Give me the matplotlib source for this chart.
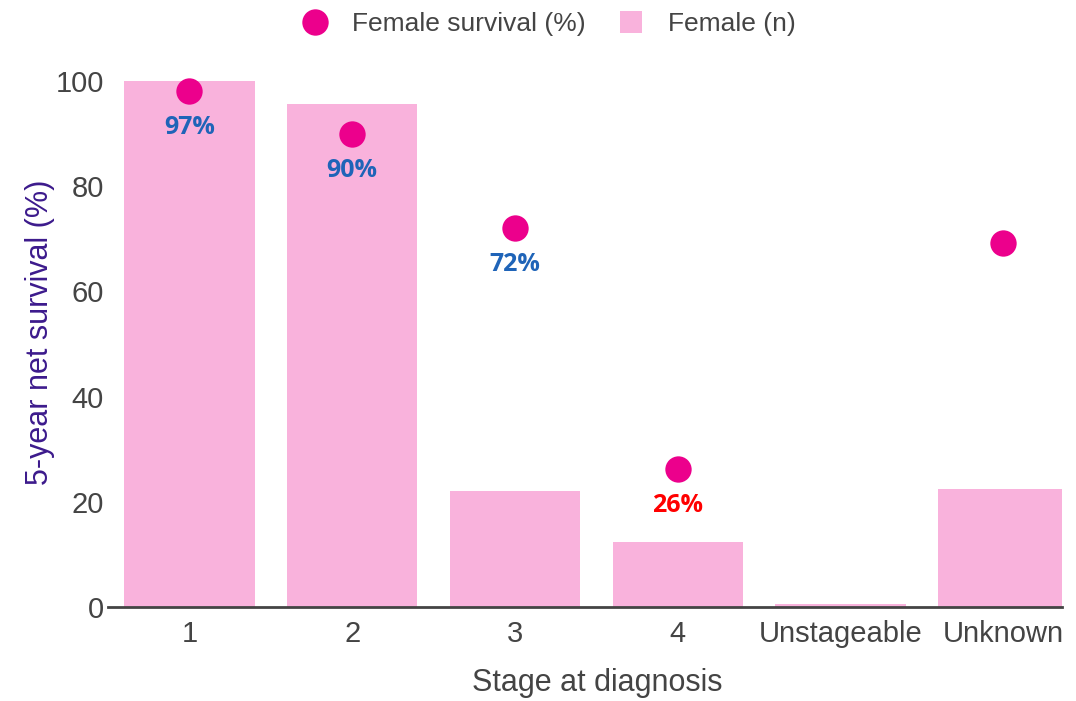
import matplotlib
matplotlib.use("Agg")
import matplotlib.pyplot as plt
from matplotlib.lines import Line2D

categories = ["1", "2", "3", "4", "Unstageable", "Unknown"]
female_n_bar = [100.0, 95.6, 22.0, 12.3, 0.6, 22.5]      # bar heights read on the survival axis scale
female_survival = [98.1, 89.9, 72.1, 26.2, None, 69.2]
survival_labels = ["97%", "90%", "72%", "26%", None, None]
label_colors = ["#1F64B8", "#1F64B8", "#1F64B8", "#FF0000", None, None]
yticks = [0, 20, 40, 60, 80, 100]

BAR_COLOR = "#F9B2DC"
DOT_COLOR = "#EC008C"
TEXT_COLOR = "#444444"

plt.rcParams["font.family"] = ["Liberation Sans", "DejaVu Sans"]

fig = plt.figure(figsize=(10.76, 7.01), dpi=100)
ax = fig.add_axes([108 / 1076, 1 - 607 / 701, (1062 - 108) / 1076, (607 - 81) / 701])

x = list(range(len(categories)))
ax.bar(x, female_n_bar, width=0.8, color=BAR_COLOR, zorder=1)

for xi, v, lab, col in zip(x, female_survival, survival_labels, label_colors):
    if v is None:
        continue
    ax.scatter([xi], [v], s=360, color=DOT_COLOR, zorder=3, clip_on=False, linewidths=0)
    if lab:
        ax.annotate(lab, (xi, v), xytext=(0, -26.5), textcoords="offset points",
                    ha="center", va="center", fontsize=18, fontweight="bold",
                    color=col, family=["Open Sans", "DejaVu Sans"])

ax.set_xlim(-0.5, 5.36)
ax.set_ylim(0, 100)
ax.set_xticks(x)
ax.set_xticklabels(categories)
ax.set_yticks(yticks)
ax.tick_params(axis="both", length=0, labelsize=21, colors=TEXT_COLOR)
ax.tick_params(axis="x", pad=9)
ax.tick_params(axis="y", pad=3)

for s in ["top", "right", "left"]:
    ax.spines[s].set_visible(False)
ax.spines["bottom"].set_color(TEXT_COLOR)
ax.spines["bottom"].set_linewidth(2)
ax.spines["bottom"].set_zorder(4)

ax.set_xlabel("Stage at diagnosis", fontsize=22, color=TEXT_COLOR, labelpad=15)
ax.xaxis.label.set_x(0.5126)
ax.set_ylabel("5-year net survival (%)", fontsize=22, color="#3C1A8C", labelpad=0.5)
ax.yaxis.label.set_y(0.523)

handles = [
    Line2D([], [], marker="o", linestyle="none", markersize=19, markerfacecolor=DOT_COLOR,
           markeredgewidth=0, label="Female survival (%)"),
    Line2D([], [], marker="s", linestyle="none", markersize=16, markerfacecolor=BAR_COLOR,
           markeredgewidth=0, label="Female (n)"),
]
leg = fig.legend(handles=handles, loc="center", bbox_to_anchor=(0.504, 1 - 24 / 701), ncol=2,
                 frameon=False, fontsize=19, handletextpad=0.4, columnspacing=0.7)
for t in leg.get_texts():
    t.set_color(TEXT_COLOR)

fig.savefig("out.png", dpi=100)
